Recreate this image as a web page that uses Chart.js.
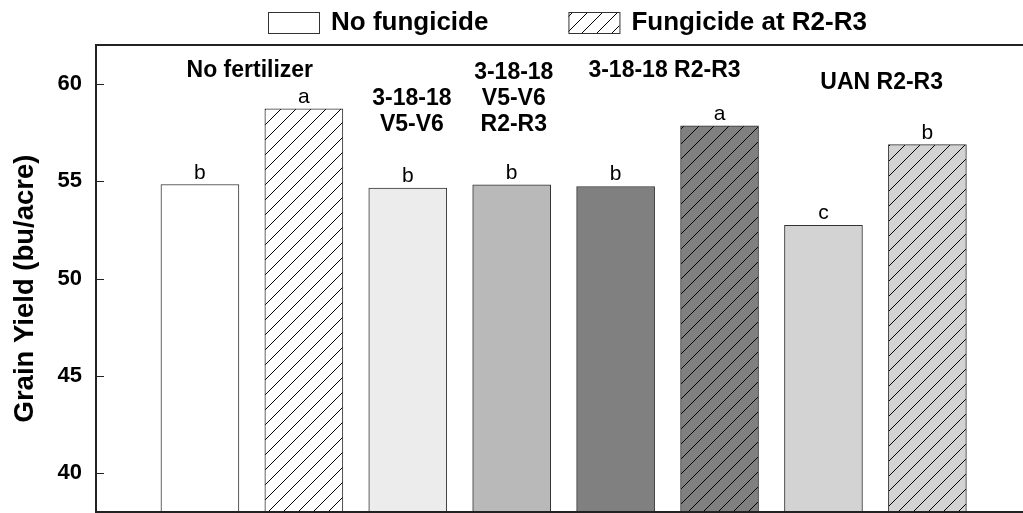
<!DOCTYPE html>
<html>
<head>
<meta charset="utf-8">
<title>Grain yield by fertilizer and fungicide</title>
<script src="https://cdn.jsdelivr.net/npm/chart.js@4.4.1/dist/chart.umd.min.js"></script>
<style>
  html, body { margin: 0; padding: 0; background: #fff; overflow: hidden; }
</style>
</head>
<body>
<canvas id="yieldChart" width="1023" height="513"></canvas>
<script>
// Data
const slots = [1, 2, 3, 4, 5, 6, 7, 8];
const yields = [54.83, 58.72, 54.65, 54.82, 54.73, 57.85, 52.73, 56.88];
const letters = ['b', 'a', 'b', 'b', 'b', 'a', 'c', 'b'];
const fungicide = [false, true, false, false, false, true, false, true];
const seriesNames = ['No fungicide', 'Fungicide at R2-R3'];
const yTicks = [40, 45, 50, 55, 60];
const yTitle = 'Grain Yield (bu/acre)';
const groupNames = [
	['No fertilizer'],
	['3-18-18', 'V5-V6'],
	['3-18-18', 'V5-V6', 'R2-R3'],
	['3-18-18 R2-R3'],
	['UAN R2-R3']
];

// styling
const fills = ['#ffffff', '#ffffff', '#ececec', '#b9b9b9', '#808080', '#808080', '#d3d3d3', '#d3d3d3'];
// group name anchors in axis units (centre of first line)
const groupAnchors = [
	{ x: 1.48, y: 60.68 },
	{ x: 3.04, y: 59.22 },
	{ x: 4.02, y: 60.58 },
	{ x: 5.47, y: 60.66 },
	{ x: 7.56, y: 60.07 }
];
const FONT = "'Liberation Sans', Arial, sans-serif";

function hatch(bg) {
	const s = 15;
	const c = document.createElement('canvas');
	c.width = s; c.height = s;
	const g = c.getContext('2d');
	g.fillStyle = bg;
	g.fillRect(0, 0, s, s);
	g.strokeStyle = '#000';
	g.lineWidth = 1;
	g.beginPath();
	g.moveTo(-1, s + 1); g.lineTo(s + 1, -1);
	g.moveTo(-1, 1); g.lineTo(1, -1);
	g.moveTo(s - 1, s + 1); g.lineTo(s + 1, s - 1);
	g.stroke();
	return g.createPattern(c, 'repeat');
}

const makeSet = (flag, i) => {
	const idx = slots.map((_, k) => k).filter(k => fungicide[k] === flag);
	return {
		label: seriesNames[i],
		data: idx.map(k => ({ x: slots[k], y: yields[k] })),
		letters: idx.map(k => letters[k]),
		backgroundColor: idx.map(k => flag ? hatch(fills[k]) : fills[k]),
		borderColor: '#333',
		borderWidth: 1,
		barThickness: 78,
		grouped: false
	};
};

const decor = {
	id: 'decor',
	afterDatasetsDraw(chart) {
		const { ctx, chartArea: a, scales: { x, y } } = chart;
		ctx.save();
		// frame (top, left, bottom)
		ctx.strokeStyle = '#222';
		ctx.lineWidth = 2;
		ctx.beginPath();
		ctx.moveTo(chart.width, a.top);
		ctx.lineTo(a.left, a.top);
		ctx.lineTo(a.left, a.bottom);
		ctx.lineTo(chart.width, a.bottom);
		ctx.stroke();
		// inward ticks
		ctx.lineWidth = 1;
		ctx.beginPath();
		yTicks.forEach(v => {
			const py = Math.round(y.getPixelForValue(v)) + 0.5;
			ctx.moveTo(a.left, py);
			ctx.lineTo(a.left + 8, py);
		});
		ctx.stroke();

		// y title (sits a little below the axis middle in the original)
		ctx.fillStyle = '#000';
		ctx.save();
		ctx.translate(25, (a.top + a.bottom) / 2 + 10);
		ctx.rotate(-Math.PI / 2);
		ctx.textAlign = 'center';
		ctx.textBaseline = 'middle';
		ctx.font = 'bold 27.5px ' + FONT;
		ctx.fillText(yTitle, 0, 0);
		ctx.restore();

		// significance letters
		ctx.textAlign = 'center';
		ctx.textBaseline = 'alphabetic';
		ctx.font = '21px ' + FONT;
		chart.data.datasets.forEach((ds, di) => {
			chart.getDatasetMeta(di).data.forEach((bar, i) => {
				ctx.fillText(ds.letters[i], bar.x, bar.y - 6);
			});
		});

		// group names
		ctx.font = 'bold 23px ' + FONT;
		ctx.textBaseline = 'middle';
		groupNames.forEach((lines, gi) => {
			const px = x.getPixelForValue(groupAnchors[gi].x);
			const py = y.getPixelForValue(groupAnchors[gi].y);
			lines.forEach((t, li) => ctx.fillText(t, px, py + li * 26));
		});

		// legend
		ctx.font = 'bold 26px ' + FONT;
		ctx.textAlign = 'left';
		const boxW = 51, boxH = 21, gap = 12, itemGap = 80;
		const items = chart.data.datasets.map(ds => ({ label: ds.label, fill: ds.backgroundColor[0] }));
		const total = items.reduce((s, it) => s + boxW + gap + ctx.measureText(it.label).width, 0) + itemGap * (items.length - 1);
		let lx = Math.round(567 - total / 2);
		items.forEach(it => {
			ctx.fillStyle = it.fill;
			ctx.fillRect(lx, 12, boxW, boxH);
			ctx.strokeStyle = '#333';
			ctx.strokeRect(lx + 0.5, 12.5, boxW, boxH);
			ctx.fillStyle = '#000';
			ctx.fillText(it.label, lx + boxW + gap, 23);
			lx += boxW + gap + ctx.measureText(it.label).width + itemGap;
		});
		ctx.restore();
	}
};

new Chart(document.getElementById('yieldChart'), {
	type: 'bar',
	data: { datasets: [makeSet(false, 0), makeSet(true, 1)] },
	options: {
		responsive: false,
		animation: false,
		devicePixelRatio: 1,
		layout: { padding: { top: 45, right: 0, bottom: 1, left: 0 } },
		plugins: { legend: { display: false }, tooltip: { enabled: false } },
		scales: {
			x: { type: 'linear', min: 0, max: 8.92, offset: false, display: false },
			y: {
				min: 38, max: 62,
				grid: { display: false, drawTicks: false },
				border: { display: false },
				ticks: {
					stepSize: 5, includeBounds: false, padding: 14, color: '#000',
					font: { family: FONT, size: 22, weight: 'bold' }
				},
				title: { display: false },
				afterFit(scale) {
					scale.width = 96;
					scale.paddingTop = 0;
					scale.paddingBottom = 0;
				}
			}
		}
	},
	plugins: [decor]
});
</script>
</body>
</html>
